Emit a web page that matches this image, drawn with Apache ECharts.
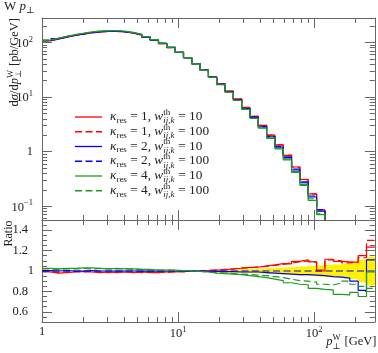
<!DOCTYPE html>
<html><head><meta charset="utf-8">
<script src="https://cdn.jsdelivr.net/npm/echarts@6/dist/echarts.min.js"></script>
<style>html,body{margin:0;padding:0;background:#fff}#c{width:378px;height:353px}</style>
</head><body><div id="c"></div>
<script>
// ---- data ----
const binEdges = [1, 1.151, 1.325, 1.525, 1.756, 2.021, 2.328, 2.681, 3.086, 3.549, 4.089, 4.709, 5.42, 6.242, 7.186, 8.274, 9.526, 10.97, 12.63, 14.54, 16.73, 19.26, 22.17, 25.52, 29.38, 33.82, 38.93, 44.82, 51.59, 59.39, 68.37, 78.70, 90.59, 104.5, 120.3, 138.4, 159.4, 183.4, 211.2, 243.1, 279.8];
// reference prediction (kappa_res = 2, w = 100), pb/GeV
const refValues = [107.9, 117.4, 126.1, 135.5, 143.1, 151.1, 157.0, 161.1, 161.1, 157.0, 149.3, 138.4, 126.1, 111.1, 95.9, 81.0, 66.1, 52.5, 40.7, 31.1, 23.3, 17.2, 12.6, 9.0, 6.23, 4.28, 2.89, 1.90, 1.245, 0.800, 0.478, 0.279, 0.154, 0.0855, 0.0474, 0.025, 0.013, 0.0068, 0.0035, 0.0018];
const ratioK1W10 = [0.99, 0.98, 0.985, 0.99, 0.995, 0.99, 0.985, 0.99, 0.985, 0.99, 0.985, 0.99, 0.985, 0.985, 0.99, 0.99, 0.995, 0.995, 1.0, 1.003, 1.008, 1.012, 1.02, 1.027, 1.035, 1.037, 1.05, 1.06, 1.072, 1.07, 1.095, 1.11, 1.09, 1.0, 1.115, 1.095, 1.09, 1.085, 1.15, 1.235];
const ratioK1W100 = [0.995, 0.985, 0.99, 0.995, 0.99, 0.995, 0.99, 0.985, 0.99, 0.99, 0.99, 0.985, 0.99, 0.99, 0.985, 0.995, 0.99, 1.0, 1.0, 1.005, 1.01, 1.015, 1.02, 1.03, 1.03, 1.04, 1.045, 1.055, 1.065, 1.08, 1.09, 1.1, 1.085, 1.01, 1.11, 1.1, 1.08, 1.09, 1.13, 1.3];
const ratioK2W10 = [1.005, 1.0, 1.005, 1.0, 1.0, 1.005, 1.0, 1.0, 0.998, 1.0, 1.0, 0.998, 1.0, 0.998, 1.0, 1.0, 0.998, 1.0, 0.998, 0.996, 0.995, 0.994, 0.993, 0.99, 0.99, 0.99, 0.985, 0.98, 0.975, 0.97, 0.965, 0.965, 0.96, 0.955, 0.945, 0.94, 0.93, 0.9, 0.81, 1.11];
const ratioK2W100 = [1, 1, 1, 1, 1, 1, 1, 1, 1, 1, 1, 1, 1, 1, 1, 1, 1, 1, 1, 1, 1, 1, 1, 1, 1, 1, 1, 1, 1, 1, 1, 1, 1, 1, 1, 1, 1, 1, 1, 1];
const ratioK4W10 = [1.025, 1.02, 1.025, 1.025, 1.03, 1.03, 1.025, 1.02, 1.025, 1.02, 1.02, 1.015, 1.015, 1.01, 1.01, 1.01, 1.005, 1.0, 0.995, 0.99, 0.98, 0.975, 0.97, 0.965, 0.955, 0.945, 0.935, 0.92, 0.905, 0.885, 0.87, 0.865, 0.83, 0.82, 0.815, 0.77, 0.765, 0.79, 0.75, 0.99];
const ratioK4W100 = [1.02, 1.015, 1.02, 1.02, 1.025, 1.02, 1.025, 1.02, 1.02, 1.025, 1.015, 1.015, 1.01, 1.01, 1.01, 1.005, 1.0, 1.0, 0.995, 0.99, 0.985, 0.98, 0.975, 0.97, 0.965, 0.96, 0.955, 0.945, 0.935, 0.92, 0.905, 0.9, 0.89, 0.87, 0.865, 0.88, 0.9, 0.87, 0.85, 0.83];
const bandHalfWidth = [0.004, 0.004, 0.003, 0.003, 0.003, 0.003, 0.003, 0.003, 0.003, 0.003, 0.004, 0.004, 0.005, 0.005, 0.006, 0.006, 0.007, 0.008, 0.009, 0.01, 0.012, 0.013, 0.015, 0.017, 0.02, 0.022, 0.025, 0.028, 0.032, 0.036, 0.04, 0.045, 0.05, 0.055, 0.06, 0.065, 0.07, 0.08, 0.11, 0.14];
const kappaLabels = ['1', '1', '2', '2', '4', '4'];
const wLabels = ['10', '100', '10', '100', '10', '100'];
const xMajorTicks = [1, 10, 100];
const xMinorTicks = [2, 3, 4, 5, 6, 7, 8, 9, 20, 30, 40, 50, 60, 70, 80, 90, 200];
const yMajorTicks = [0.1, 1, 10, 100];
const yMinorTicks = [0.06, 0.07, 0.08, 0.09, 0.2, 0.3, 0.4, 0.5, 0.6, 0.7, 0.8, 0.9, 2, 3, 4, 5, 6, 7, 8, 9, 20, 30, 40, 50, 60, 70, 80, 90, 200];
const ratioMajorTicks = [0.6, 0.8, 1, 1.2, 1.4];
const ratioMinorTicks = [0.55, 0.65, 0.7, 0.75, 0.85, 0.9, 0.95, 1.05, 1.1, 1.15, 1.25, 1.3, 1.35, 1.45];

// ---- style ----
const FONT = '"Liberation Serif", "DejaVu Serif", serif';
const FRAME = '#666';
const TXT = '#222';
const RED = '#ff0000', BLUE = '#0000ff', GREEN = '#1f9a1f';
const DASH = [7, 3.5];
const X0 = 42, XR = 378 - 374.8;
const TOP_T = 18, TOP_H = 202, RAT_T = 220, RAT_H = 102;

const N = refValues.length;
function stepData(vals) {
  const d = vals.map((v, i) => [binEdges[i], v]);
  d.push([binEdges[N], vals[N - 1]]);
  return d;
}
function mul(r) { return refValues.map((v, i) => v * r[i]); }

const seriesDefs = [
  {r: ratioK1W10, c: RED, t: 'solid'},
  {r: ratioK1W100, c: RED, t: DASH},
  {r: ratioK2W10, c: BLUE, t: 'solid'},
  {r: ratioK2W100, c: BLUE, t: DASH},
  {r: ratioK4W10, c: GREEN, t: 'solid'},
  {r: ratioK4W100, c: GREEN, t: DASH}
];

const logFmt = v => {
  const e = Math.round(Math.log10(v));
  if (e === 0) return '{b|1}';
  return '{b|10}{s|' + (e < 0 ? '\u2212' + (-e) : e) + '}';
};
const richLab = {
  b: {fontFamily: FONT, fontSize: 12.5, color: TXT, verticalAlign: 'bottom'},
  s: {fontFamily: FONT, fontSize: 8.5, color: TXT, verticalAlign: 'bottom', padding: [0, 0, 6, 0]},
  d: {fontFamily: FONT, fontSize: 12.5, color: TXT, padding: [0, 6, 0, 0]}
};

function xAx(grid, pos, ticks, len, line, labels) {
  return {
    type: 'log', logBase: 10, gridIndex: grid, position: pos, min: 1, max: 279.8,
    axisLine: {show: line, onZero: false, lineStyle: {color: FRAME, width: 1}},
    axisTick: {show: true, inside: true, length: len, customValues: ticks, lineStyle: {color: FRAME, width: 1}},
    axisLabel: labels ? {show: true, customValues: xMajorTicks, formatter: logFmt, rich: richLab, margin: 3} : {show: false},
    splitLine: {show: false}, minorTick: {show: false}
  };
}
function yLogAx(pos, ticks, len, line, labels) {
  return {
    type: 'log', logBase: 10, gridIndex: 0, position: pos, min: 0.056, max: 280,
    axisLine: {show: line, onZero: false, lineStyle: {color: FRAME, width: 1}},
    axisTick: {show: true, inside: true, length: len, customValues: ticks, lineStyle: {color: FRAME, width: 1}},
    axisLabel: labels ? {show: true, customValues: yMajorTicks, formatter: logFmt, rich: richLab, margin: 9} : {show: false},
    splitLine: {show: false}, minorTick: {show: false}
  };
}
function yRatAx(pos, ticks, len, line, labels) {
  return {
    type: 'value', gridIndex: 1, position: pos, min: 0.5, max: 1.5,
    axisLine: {show: line, onZero: false, lineStyle: {color: FRAME, width: 1}},
    axisTick: {show: true, inside: true, length: len, customValues: ticks, lineStyle: {color: FRAME, width: 1}},
    axisLabel: labels ? {show: true, customValues: ratioMajorTicks, margin: 8, rich: richLab,
      formatter: v => Math.abs(v - 1) < 1e-9 ? '{b|1}' : '{d|' + v.toFixed(1) + '}'} : {show: false},
    splitLine: {show: false}, minorTick: {show: false}
  };
}

// ---- text helpers (graphic) ----
const mctx = document.createElement('canvas').getContext('2d');
function mw(t, size, it) { mctx.font = (it ? 'italic ' : '') + size + 'px ' + FONT; return mctx.measureText(t).width; }
function txt(t, x, base, size, it, fill) {
  return {type: 'text', x: x, y: base - 0.32 * size, silent: true,
    style: {text: t, font: (it ? 'italic ' : '') + size + 'px ' + FONT, fill: fill || TXT,
      textAlign: 'left', textVerticalAlign: 'middle', verticalAlign: 'middle'}};
}
// pieces: {t,s,it,dy} or {stack:[{t,s,it,dy},...]}
function runs(x, base, pieces) {
  const els = []; let cx = x;
  pieces.forEach(p => {
    if (p.stack) {
      let w = 0;
      p.stack.forEach(q => { els.push(txt(q.t, cx, base + (q.dy || 0), q.s, q.it)); w = Math.max(w, mw(q.t, q.s, q.it)); });
      cx += w + (p.gap || 0);
    } else {
      els.push(txt(p.t, cx, base + (p.dy || 0), p.s, p.it));
      cx += mw(p.t, p.s, p.it) + (p.gap || 0);
    }
  });
  return {els: els, width: cx - x};
}
const FS = 12.5, SS = 8.5, LFS = 13.3, LSS = 9;

const graphics = [];
// title
graphics.push(...runs(4, 11, [{t: 'W ', s: 13}, {t: 'p', s: 13, it: true}, {t: '\u22a5', s: 9, dy: 3}]).els);
// y title (rotated)
(function () {
  const pcs = [{t: 'd', s: FS}, {t: '\u03c3', s: FS, it: true}, {t: '/d', s: FS}, {t: 'p', s: FS, it: true},
    {stack: [{t: 'W', s: SS, dy: -5.5}, {t: '\u22a5', s: SS, dy: 3}], gap: 1}, {t: ' [pb/GeV]', s: FS}];
  const probe = runs(0, 0, pcs);
  const r = runs(-probe.width, 0, pcs);
  graphics.push({type: 'group', x: 18.5, y: 18, rotation: Math.PI / 2, children: r.els});
})();
// ratio title
(function () {
  const pcs = [{t: 'Ratio', s: 12}];
  const probe = runs(0, 0, pcs);
  graphics.push({type: 'group', x: 12.5, y: 220.5, rotation: Math.PI / 2, children: runs(-probe.width, 0, pcs).els});
})();
// x title
(function () {
  const pcs = [{t: 'p', s: FS, it: true}, {stack: [{t: 'W', s: SS, dy: -5.5}, {t: '\u22a5', s: SS, dy: 3}], gap: 1}, {t: ' [GeV]', s: FS}];
  const probe = runs(0, 0, pcs);
  graphics.push(...runs(376.5 - probe.width, 346, pcs).els);
})();
// legend
const legendY0 = 117, legendDY = 14.75;
seriesDefs.forEach((sd, i) => {
  const y = legendY0 + i * legendDY;
  graphics.push({type: 'line', silent: true, shape: {x1: 75, y1: y, x2: 102, y2: y},
    style: {stroke: sd.c, lineWidth: 1.3, lineDash: sd.t === 'solid' ? null : DASH}});
  const pcs = [{t: '\u03ba', s: LFS, it: true}, {t: 'res', s: LSS, dy: 2.5}, {t: ' = ' + kappaLabels[i] + ', ', s: LFS},
    {t: 'w', s: LFS, it: true}, {stack: [{t: 'th', s: LSS, dy: -5.5}, {t: 'ij,k', s: LSS, it: true, dy: 3}], gap: 0.5},
    {t: ' = ' + wLabels[i], s: LFS}];
  graphics.push(...runs(110, y + 4, pcs).els);
});

// ---- series ----
const series = [];
series.push({
  type: 'custom', xAxisIndex: 4, yAxisIndex: 4, clip: true, z: 1, silent: true,
  data: bandHalfWidth.map((h, i) => [binEdges[i], binEdges[i + 1], 1 - h, 1 + h]),
  encode: {x: [0, 1], y: [2, 3]},
  renderItem: (params, api) => {
    const a = api.coord([api.value(0), api.value(3)]);
    const b = api.coord([api.value(1), api.value(2)]);
    return {type: 'rect', shape: {x: a[0], y: a[1], width: b[0] - a[0] + 0.5, height: b[1] - a[1]}, style: {fill: '#fff200'}};
  }
});
seriesDefs.forEach((sd, i) => {
  series.push({type: 'line', step: 'end', symbol: 'none', showSymbol: false, clip: true, silent: true, z: 2 + i,
    xAxisIndex: 0, yAxisIndex: 0, data: stepData(mul(sd.r)),
    lineStyle: {color: sd.c, width: 1.2, type: sd.t}});
  series.push({type: 'line', step: 'end', symbol: 'none', showSymbol: false, clip: true, silent: true, z: 2 + i,
    xAxisIndex: 4, yAxisIndex: 4, data: stepData(sd.r),
    lineStyle: {color: sd.c, width: 1.2, type: sd.t}});
});

const option = {
  animation: false,
  backgroundColor: '#fff',
  grid: [
    {left: X0, right: XR, top: TOP_T, height: TOP_H, containLabel: false, outerBoundsMode: 'none'},
    {left: X0, right: XR, top: RAT_T, height: RAT_H, containLabel: false, outerBoundsMode: 'none'}
  ],
  xAxis: [
    xAx(0, 'bottom', xMajorTicks, 10, true, false),
    xAx(0, 'bottom', xMinorTicks, 5, false, false),
    xAx(0, 'top', xMajorTicks, 10, true, false),
    xAx(0, 'top', xMinorTicks, 5, false, false),
    xAx(1, 'bottom', xMajorTicks, 10, true, true),
    xAx(1, 'bottom', xMinorTicks, 5, false, false),
    xAx(1, 'top', xMajorTicks, 10, true, false),
    xAx(1, 'top', xMinorTicks, 5, false, false)
  ],
  yAxis: [
    yLogAx('left', yMajorTicks, 10, true, true),
    yLogAx('left', yMinorTicks, 5, false, false),
    yLogAx('right', yMajorTicks, 10, true, false),
    yLogAx('right', yMinorTicks, 5, false, false),
    yRatAx('left', ratioMajorTicks, 10, true, true),
    yRatAx('left', ratioMinorTicks, 5, false, false),
    yRatAx('right', ratioMajorTicks, 10, true, false),
    yRatAx('right', ratioMinorTicks, 5, false, false)
  ],
  series: series,
  graphic: graphics
};
const chart = echarts.init(document.getElementById('c'), null, {renderer: 'canvas', width: 378, height: 353});
chart.setOption(option);
</script></body></html>
